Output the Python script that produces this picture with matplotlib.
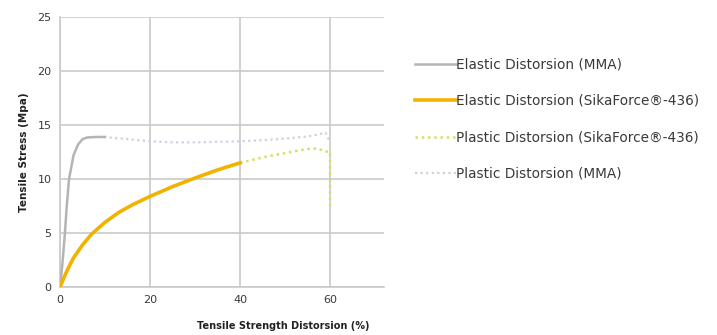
import matplotlib

matplotlib.use("Agg")
import matplotlib.pyplot as plt

# Elastic distortion (MMA): steep rise to yield plateau
mma_el_x = [0, 0.5, 1, 1.5, 2, 3, 4, 5, 6, 8, 10]
mma_el_y = [0, 2.0, 4.5, 7.5, 10.0, 12.2, 13.2, 13.7, 13.85, 13.9, 13.9]

# Plastic distortion (MMA)
mma_pl_x = [11, 15, 20, 25, 30, 35, 40, 45, 50, 55, 57, 59, 60]
mma_pl_y = [13.85, 13.7, 13.5, 13.4, 13.4, 13.45, 13.5, 13.6, 13.75, 13.95, 14.1, 14.3, 13.4]

# Elastic distortion (SikaForce-436)
sika_el_x = [0, 1, 2, 3, 5, 7, 10, 13, 16, 20, 25, 30, 35, 40]
sika_el_y = [0, 1.0, 1.9, 2.7, 3.9, 4.9, 6.0, 6.9, 7.6, 8.4, 9.3, 10.1, 10.85, 11.5]

# Plastic distortion (SikaForce-436)
sika_pl_x = [40, 43, 46, 50, 53, 56, 57.5, 58.5, 60, 60, 60]
sika_pl_y = [11.5, 11.8, 12.1, 12.4, 12.65, 12.85, 12.8, 12.6, 12.5, 10.5, 7.5]

x_ticks = [0, 20, 40, 60]
y_ticks = [0, 5, 10, 15, 20, 25]

GRID = "#c9c9c9"
TEXT = "#3a3a3a"

fig = plt.figure(figsize=(7.17, 3.35), dpi=100)
ax = fig.add_axes([0.0837, 0.143, 0.452, 0.806])

ax.plot(mma_el_x, mma_el_y, color="#b4b4b4", lw=1.8, label="Elastic Distorsion (MMA)", zorder=3)
ax.plot(sika_el_x, sika_el_y, color="#f2b200", lw=2.6, label="Elastic Distorsion (SikaForce\u00ae-436)", zorder=4)
ax.plot(sika_pl_x, sika_pl_y, color="#d6de6a", lw=1.8, ls=(0, (1, 1.5)), label="Plastic Distorsion (SikaForce\u00ae-436)", zorder=3)
ax.plot(mma_pl_x, mma_pl_y, color="#cfd0e0", lw=1.6, ls=(0, (1, 1.5)), label="Plastic Distorsion (MMA)", zorder=2)

ax.set_xlim(0, 72)
ax.set_ylim(0, 25)
ax.set_xticks(x_ticks)
ax.set_yticks(y_ticks)
ax.grid(True, color=GRID, lw=1.2)
ax.set_axisbelow(True)
for side in ("top", "right"):
    ax.spines[side].set_visible(False)
for side in ("left", "bottom"):
    ax.spines[side].set_color(GRID)
    ax.spines[side].set_linewidth(1.2)
ax.tick_params(length=0, labelsize=8, colors=TEXT, pad=6)

ax.set_ylabel("Tensile Stress (Mpa)", fontsize=7.5, fontweight="bold", color="#222222", labelpad=6)
ax.set_xlabel("Tensile Strength Distorsion (%)", fontsize=7, fontweight="bold", color="#222222")
ax.xaxis.set_label_coords(0.69, -0.125)

fig.legend(
    loc="upper left", bbox_to_anchor=(0.571, 0.845), frameon=False,
    fontsize=9.8, labelcolor=TEXT, handlelength=3.0, handletextpad=0.05,
    labelspacing=1.65, borderaxespad=0,
)

fig.savefig("out.png", dpi=100)
